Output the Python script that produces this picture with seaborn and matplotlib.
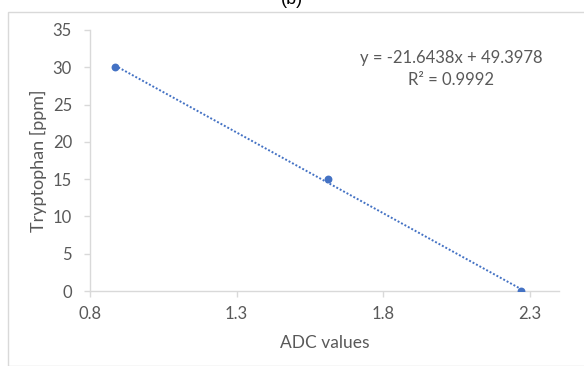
import numpy as np
import pandas as pd
import matplotlib
matplotlib.use("Agg")
import matplotlib.pyplot as plt
import seaborn as sns
from matplotlib.patches import Rectangle

adc_values = [0.885, 1.613, 2.270]
tryptophan_ppm = [30, 15, 0]
x_ticks = [0.8, 1.3, 1.8, 2.3]
y_ticks = [0, 5, 10, 15, 20, 25, 30, 35]
equation_text = "y = -21.6438x + 49.3978"
r2_text = "R² = 0.9992"

sns.set_theme(style="white")
plt.rcParams['font.family'] = ['Lato', 'DejaVu Sans']

df = pd.DataFrame({"ADC values": adc_values, "Tryptophan [ppm]": tryptophan_ppm})

fig = plt.figure(figsize=(5.84, 3.66), dpi=100)
fig.patch.set_facecolor("white")
ax = fig.add_axes([90/584, 1-291/366, (559-90)/584, (291-30)/366])

# outer chart border
fig.patches.append(Rectangle((8/584, 0), 1, 1-12/366, transform=fig.transFigure,
                             fill=False, edgecolor="#d9d9d9", linewidth=1.0))

blue = "#4472C4"
# trend line
coef = np.polyfit(df["ADC values"], df["Tryptophan [ppm]"], 1)
xs = np.array([min(adc_values), max(adc_values)])
ax.plot(xs, np.polyval(coef, xs), linestyle=(0, (1, 1)), color=blue, linewidth=1.4, zorder=2)
sns.scatterplot(data=df, x="ADC values", y="Tryptophan [ppm]", ax=ax, color=blue,
                s=32, edgecolor=blue, linewidth=0, zorder=3)

ax.set_xlim(0.8, 2.4)
ax.set_ylim(0, 35)
ax.set_xticks(x_ticks)
ax.set_xticklabels([f"{v:.1f}" for v in x_ticks])
ax.set_yticks(y_ticks)
ax.set_yticklabels([str(v) for v in y_ticks])

grey = "#595959"
ax.tick_params(axis="both", colors="#d9d9d9", labelcolor=grey, labelsize=12,
               length=4, width=1, direction="out", left=True, bottom=True)
ax.tick_params(axis="y", pad=9)
ax.tick_params(axis="x", pad=7)
for s in ["top", "right"]:
    ax.spines[s].set_visible(False)
for s in ["left", "bottom"]:
    ax.spines[s].set_color("#d9d9d9")
    ax.spines[s].set_linewidth(1)

ax.set_xlabel("ADC values", color=grey, fontsize=12.5, labelpad=9)
ax.set_ylabel("Tryptophan [ppm]", color=grey, fontsize=13, labelpad=4)

ax.text(0.77, 0.893, equation_text, transform=ax.transAxes, ha="center", va="center",
        color=grey, fontsize=12)
ax.text(0.77, 0.808, r2_text, transform=ax.transAxes, ha="center", va="center",
        color=grey, fontsize=12)

fig.text(0.5, 1.0, "(b)", ha="center", va="center", fontsize=13, color="black",
         family=["Liberation Sans", "DejaVu Sans"])

fig.savefig("out.png", dpi=100, facecolor="white")
